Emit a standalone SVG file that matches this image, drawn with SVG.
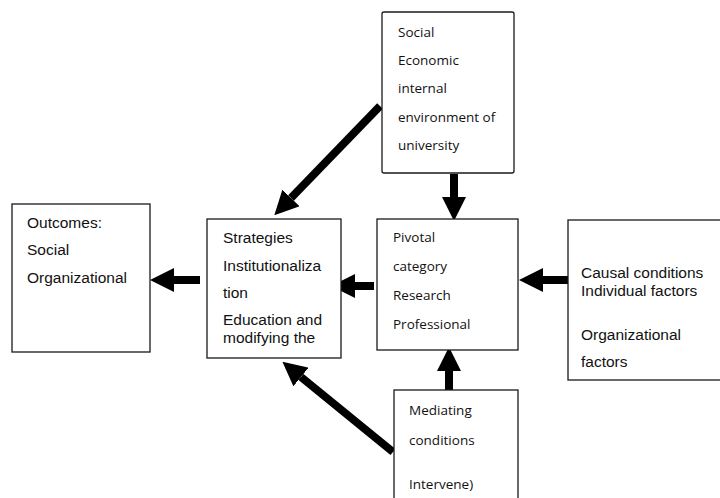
<svg xmlns="http://www.w3.org/2000/svg" width="720" height="498" viewBox="0 0 720 498">
<style>
.box{fill:#fff;stroke:#1a1a1a;stroke-width:1.3}
.a{font-family:"Liberation Sans",Arial,sans-serif;font-size:15.5px;fill:#111}
.c{font-family:"Open Sans","Noto Sans",sans-serif;font-size:13.5px;fill:#111}
.arr{stroke:#000;stroke-width:8;fill:none;marker-end:url(#head)}
</style>
<defs>
<marker id="head" markerUnits="userSpaceOnUse" markerWidth="24" markerHeight="24" viewBox="0 0 24 24" refX="0" refY="12" orient="auto">
<path d="M0,0 L24,12 L0,24 z" fill="#000"/>
</marker>
</defs>
<rect width="720" height="498" fill="#fff"/>
<g id="connectors">
<line class="arr" x1="380" y1="106" x2="291" y2="198"/>
<line class="arr" x1="454" y1="174" x2="454" y2="197"/>
<line class="arr" x1="572" y1="280" x2="543" y2="280"/>
<line class="arr" x1="374" y1="286" x2="355" y2="286"/>
<line class="arr" x1="200" y1="280" x2="174" y2="280"/>
<line class="arr" x1="449" y1="391" x2="449" y2="371"/>
<line class="arr" x1="393" y1="452" x2="301" y2="377"/>
</g>
<g id="context">
<rect class="box" x="382" y="12" width="132" height="161" rx="2"/>
<text class="c" x="398" y="37">Social</text>
<text class="c" x="398" y="65">Economic</text>
<text class="c" x="398" y="93">internal</text>
<text class="c" x="398" y="122">environment of</text>
<text class="c" x="398" y="150">university</text>
</g>
<g id="outcomes">
<rect class="box" x="12" y="204" width="138" height="148"/>
<text class="a" x="27" y="228">Outcomes:</text>
<text class="a" x="27" y="255">Social</text>
<text class="a" x="27" y="283">Organizational</text>
</g>
<g id="strategies">
<rect class="box" x="207" y="219" width="134" height="139"/>
<text class="a" x="223" y="243">Strategies</text>
<text class="a" x="223" y="271">Institutionaliza</text>
<text class="a" x="223" y="298">tion</text>
<text class="a" x="223" y="325">Education and</text>
<text class="a" x="223" y="343">modifying the</text>
</g>
<g id="pivotal">
<rect class="box" x="377" y="219" width="141" height="131"/>
<text class="c" x="393" y="242">Pivotal</text>
<text class="c" x="393" y="271">category</text>
<text class="c" x="393" y="300">Research</text>
<text class="c" x="393" y="329">Professional</text>
</g>
<g id="causal">
<rect class="box" x="568" y="220" width="160" height="160"/>
<text class="a" x="581" y="278">Causal conditions</text>
<text class="a" x="581" y="296">Individual factors</text>
<text class="a" x="581" y="340">Organizational</text>
<text class="a" x="581" y="367">factors</text>
</g>
<g id="mediating">
<rect class="box" x="394" y="390" width="124" height="115"/>
<text class="c" x="409" y="415">Mediating</text>
<text class="c" x="409" y="445">conditions</text>
<text class="c" x="409" y="489">Intervene)</text>
</g>
</svg>
